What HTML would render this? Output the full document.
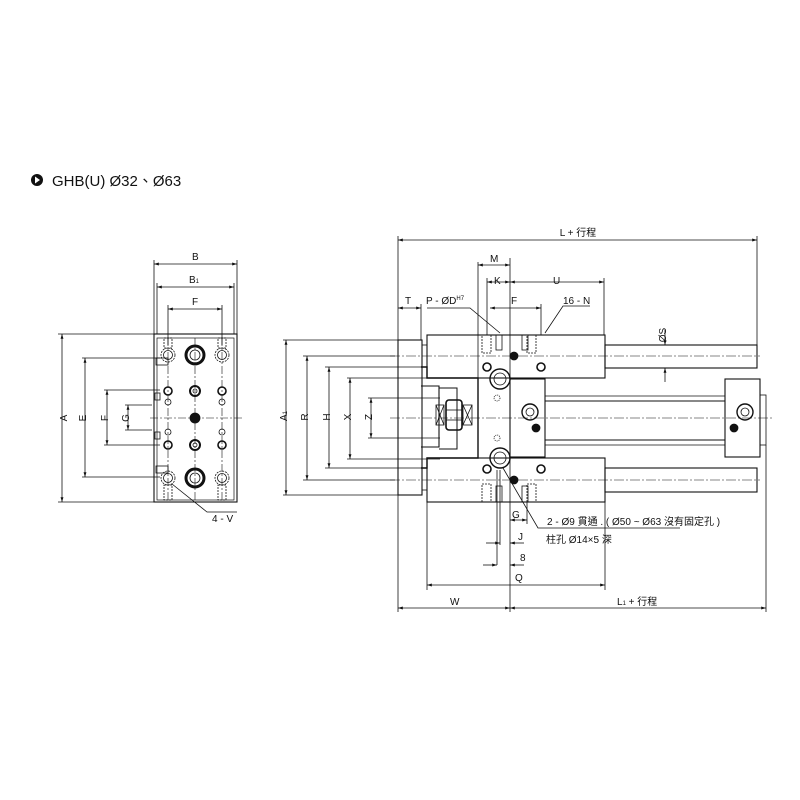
<!DOCTYPE html>
<html><head><meta charset="utf-8"><style>
html,body{margin:0;padding:0;background:#fff}
svg{display:block}
text{font-family:"Liberation Sans","Noto Sans CJK TC",sans-serif;fill:#111}
</style></head><body>
<svg width="800" height="800" viewBox="0 0 800 800" xmlns="http://www.w3.org/2000/svg">
<defs>
<marker id="a" viewBox="0 0 10 10" refX="10" refY="5" markerWidth="6" markerHeight="6" orient="auto-start-reverse"><path d="M0,2L10,5L0,8z" fill="#111"/></marker>
</defs>
<rect width="800" height="800" fill="#fff"/>
<!-- title -->
<circle cx="37" cy="180" r="6" fill="#111"/><path d="M35,176.5L40,180L35,183.5z" fill="#fff"/>
<text x="52" y="186" font-size="15">GHB(U) Ø32、Ø63</text>

<g stroke="#111" fill="none" stroke-width="0.8">
<!-- FRONT VIEW -->
<rect x="154" y="334" width="83" height="168" stroke-width="1.1"/>
<rect x="157" y="338" width="77" height="162" stroke-width="0.7"/>
<!-- ext lines -->
<line x1="154" y1="260" x2="154" y2="334"/><line x1="237" y1="260" x2="237" y2="334"/>
<line x1="157" y1="283" x2="157" y2="334"/><line x1="234" y1="283" x2="234" y2="334"/>
<line x1="168" y1="305" x2="168" y2="345"/><line x1="222" y1="305" x2="222" y2="345"/>
<line x1="154" y1="264" x2="237" y2="264" marker-start="url(#a)" marker-end="url(#a)"/>
<line x1="157" y1="287" x2="234" y2="287" marker-start="url(#a)" marker-end="url(#a)"/>
<line x1="168" y1="309" x2="222" y2="309" marker-start="url(#a)" marker-end="url(#a)"/>
<line x1="58" y1="334" x2="154" y2="334"/><line x1="58" y1="502" x2="154" y2="502"/>
<line x1="62" y1="334" x2="62" y2="502" marker-start="url(#a)" marker-end="url(#a)"/>
<line x1="82" y1="358" x2="160" y2="358"/><line x1="82" y1="477" x2="160" y2="477"/>
<line x1="85" y1="358" x2="85" y2="477" marker-start="url(#a)" marker-end="url(#a)"/>
<line x1="104" y1="390" x2="160" y2="390"/><line x1="104" y1="445" x2="160" y2="445"/>
<line x1="107" y1="390" x2="107" y2="445" marker-start="url(#a)" marker-end="url(#a)"/>
<line x1="125" y1="405" x2="152" y2="405"/><line x1="125" y1="430" x2="152" y2="430"/>
<line x1="128" y1="405" x2="128" y2="430" marker-start="url(#a)" marker-end="url(#a)"/>
<!-- center lines -->
<g stroke-dasharray="8,2,2,2" stroke-width="0.6">
<line x1="150" y1="418" x2="242" y2="418"/>
<line x1="195" y1="338" x2="195" y2="500"/>
<line x1="168" y1="338" x2="168" y2="500"/><line x1="222" y1="338" x2="222" y2="500"/>
</g>
<!-- holes -->
<circle cx="195" cy="355" r="9" stroke-width="3"/><circle cx="195" cy="355" r="5"/>
<circle cx="195" cy="478" r="9" stroke-width="3"/><circle cx="195" cy="478" r="5"/>
<circle cx="168" cy="355" r="7" stroke-dasharray="2,1"/><circle cx="168" cy="355" r="4.5"/>
<circle cx="222" cy="355" r="7" stroke-dasharray="2,1"/><circle cx="222" cy="355" r="4.5"/>
<circle cx="168" cy="478" r="7" stroke-dasharray="2,1"/><circle cx="168" cy="478" r="4.5"/>
<circle cx="222" cy="478" r="7" stroke-dasharray="2,1"/><circle cx="222" cy="478" r="4.5"/>
<g stroke-width="1.6">
<circle cx="168" cy="391" r="4"/><circle cx="222" cy="391" r="4"/>
<circle cx="168" cy="445" r="4"/><circle cx="222" cy="445" r="4"/>
</g>
<circle cx="168" cy="402" r="3"/><circle cx="222" cy="402" r="3"/>
<circle cx="168" cy="432" r="3"/><circle cx="222" cy="432" r="3"/>
<circle cx="195" cy="391" r="5" stroke-width="2"/><circle cx="195" cy="391" r="2"/>
<circle cx="195" cy="445" r="5" stroke-width="2"/><circle cx="195" cy="445" r="2"/>
<circle cx="195" cy="418" r="5" fill="#111"/>
<rect x="156" y="358" width="12" height="7"/><rect x="156" y="466" width="12" height="7"/>
<rect x="155" y="393" width="5" height="7"/><rect x="155" y="432" width="5" height="7"/>
<rect x="164" y="338" width="8" height="10" stroke-dasharray="2,1"/><rect x="218" y="338" width="8" height="10" stroke-dasharray="2,1"/>
<rect x="164" y="485" width="8" height="15" stroke-dasharray="2,1"/><rect x="218" y="485" width="8" height="15" stroke-dasharray="2,1"/>
<polyline points="172,484 207,512 237,512"/>

<!-- SIDE VIEW -->
<line x1="398" y1="236" x2="398" y2="612"/>
<line x1="757" y1="236" x2="757" y2="345"/>
<line x1="766" y1="445" x2="766" y2="612"/>
<line x1="510" y1="258" x2="510" y2="612"/>
<line x1="478" y1="262" x2="478" y2="380"/>
<line x1="398" y1="240" x2="757" y2="240" marker-start="url(#a)" marker-end="url(#a)"/>
<line x1="478" y1="265" x2="510" y2="265" marker-start="url(#a)" marker-end="url(#a)"/>
<line x1="487" y1="282" x2="510" y2="282" marker-start="url(#a)" marker-end="url(#a)"/>
<line x1="487" y1="278" x2="487" y2="335"/>
<line x1="510" y1="282" x2="604" y2="282" marker-start="url(#a)" marker-end="url(#a)"/>
<line x1="604" y1="278" x2="604" y2="335"/>
<line x1="490" y1="308" x2="541" y2="308" marker-start="url(#a)" marker-end="url(#a)"/>
<line x1="541" y1="304" x2="541" y2="335"/>
<line x1="398" y1="308" x2="421" y2="308" marker-start="url(#a)" marker-end="url(#a)"/>
<line x1="421" y1="304" x2="421" y2="340"/>
<polyline points="427,308 470,308 500,333"/>
<polyline points="590,306 563,306 545,333"/>
<line x1="665" y1="330" x2="665" y2="345" marker-end="url(#a)"/>
<line x1="665" y1="382" x2="665" y2="368" marker-end="url(#a)"/>
<!-- flange -->
<rect x="398" y="340" width="24" height="155" stroke-width="1.1"/>
<line x1="422" y1="345" x2="427" y2="345"/><line x1="422" y1="490" x2="427" y2="490"/>
<!-- A1,R,H,X,Z dims -->
<line x1="283" y1="340" x2="398" y2="340"/><line x1="283" y1="495" x2="398" y2="495"/>
<line x1="286" y1="340" x2="286" y2="495" marker-start="url(#a)" marker-end="url(#a)"/>
<line x1="303" y1="356" x2="395" y2="356"/><line x1="303" y1="480" x2="395" y2="480"/>
<line x1="307" y1="356" x2="307" y2="480" marker-start="url(#a)" marker-end="url(#a)"/>
<line x1="325" y1="367" x2="421" y2="367"/><line x1="325" y1="468" x2="421" y2="468"/>
<line x1="329" y1="367" x2="329" y2="468" marker-start="url(#a)" marker-end="url(#a)"/>
<line x1="347" y1="378" x2="440" y2="378"/><line x1="347" y1="459" x2="440" y2="459"/>
<line x1="350" y1="378" x2="350" y2="459" marker-start="url(#a)" marker-end="url(#a)"/>
<line x1="368" y1="398" x2="440" y2="398"/><line x1="368" y1="438" x2="440" y2="438"/>
<line x1="371" y1="398" x2="371" y2="438" marker-start="url(#a)" marker-end="url(#a)"/>
<!-- upper block and rod -->
<rect x="427" y="335" width="178" height="43" stroke-width="1.1"/>
<rect x="605" y="345" width="152" height="23" stroke-width="1.1"/>
<rect x="427" y="458" width="178" height="44" stroke-width="1.1"/>
<rect x="605" y="468" width="152" height="24" stroke-width="1.1"/>
<!-- left stepped body -->
<polyline points="421,367 427,367 427,378 478,378 478,458 427,458 427,468 421,468" stroke-width="1.4"/>
<polyline points="421,386 439,386 439,447 421,447" stroke-width="1.1"/>
<polyline points="439,388 457,388 457,449 439,449" stroke-width="1"/>
<!-- nut -->
<rect x="436" y="405" width="8" height="20"/><rect x="463" y="405" width="9" height="20"/>
<line x1="436" y1="405" x2="444" y2="425"/><line x1="436" y1="425" x2="444" y2="405"/>
<line x1="463" y1="405" x2="472" y2="425"/><line x1="463" y1="425" x2="472" y2="405"/>
<rect x="446" y="400" width="16" height="30" rx="3" stroke-width="1.6"/>
<line x1="446" y1="410" x2="462" y2="410"/><line x1="446" y1="420" x2="462" y2="420"/>
<!-- central plate -->
<rect x="510" y="379" width="35" height="78" stroke-width="1.1"/>
<!-- guide rods -->
<line x1="545" y1="396" x2="725" y2="396"/>
<line x1="545" y1="401" x2="725" y2="401" stroke-width="1.1"/>
<line x1="545" y1="440" x2="725" y2="440" stroke-width="1.1"/>
<line x1="545" y1="445" x2="725" y2="445"/>
<rect x="725" y="379" width="35" height="78" stroke-width="1.1"/>
<rect x="760" y="395" width="6" height="50"/>
<!-- big circles -->
<circle cx="500" cy="379" r="10" stroke-width="1.4"/><circle cx="500" cy="379" r="6"/>
<circle cx="500" cy="458" r="10" stroke-width="1.4"/><circle cx="500" cy="458" r="6"/>
<circle cx="487" cy="367" r="4" stroke-width="1.6"/><circle cx="541" cy="367" r="4" stroke-width="1.6"/>
<circle cx="487" cy="469" r="4" stroke-width="1.6"/><circle cx="541" cy="469" r="4" stroke-width="1.6"/>
<circle cx="497" cy="398" r="3" stroke-dasharray="1,1"/><circle cx="497" cy="438" r="3" stroke-dasharray="1,1"/>
<circle cx="530" cy="412" r="8" stroke-width="1.4"/><circle cx="530" cy="412" r="4"/>
<circle cx="745" cy="412" r="8" stroke-width="1.4"/><circle cx="745" cy="412" r="4"/>
<circle cx="536" cy="428" r="4" fill="#111"/><circle cx="734" cy="428" r="4" fill="#111"/>
<circle cx="514" cy="356" r="4" fill="#111"/><circle cx="514" cy="480" r="4" fill="#111"/>
<!-- tapped holes -->
<g stroke-dasharray="2,1">
<rect x="482" y="335" width="9" height="18"/><rect x="527" y="335" width="9" height="18"/>
<rect x="482" y="484" width="9" height="18"/><rect x="527" y="484" width="9" height="18"/>
</g>
<rect x="496" y="335" width="6" height="15"/><rect x="522" y="335" width="6" height="15"/>
<rect x="496" y="486" width="6" height="16"/><rect x="522" y="486" width="6" height="16"/>
<!-- center lines side -->
<g stroke-dasharray="10,2,2,2" stroke-width="0.6">
<line x1="390" y1="356" x2="760" y2="356"/>
<line x1="390" y1="480" x2="760" y2="480"/>
<line x1="390" y1="418" x2="772" y2="418"/>
</g>
<!-- leader -->
<polyline points="503,468 538,528 680,528"/>
<!-- bottom dims -->
<line x1="427" y1="502" x2="427" y2="590"/><line x1="605" y1="502" x2="605" y2="590"/>
<line x1="427" y1="585" x2="605" y2="585" marker-start="url(#a)" marker-end="url(#a)"/>
<line x1="398" y1="608" x2="510" y2="608" marker-start="url(#a)" marker-end="url(#a)"/>
<line x1="510" y1="608" x2="766" y2="608" marker-start="url(#a)" marker-end="url(#a)"/>
<line x1="527" y1="502" x2="527" y2="524"/>
<line x1="497" y1="470" x2="497" y2="565"/><line x1="500" y1="470" x2="500" y2="545"/>
<line x1="510" y1="520" x2="527" y2="520" marker-start="url(#a)" marker-end="url(#a)"/>
<line x1="486" y1="543" x2="500" y2="543" marker-end="url(#a)"/>
<line x1="524" y1="543" x2="510" y2="543" marker-end="url(#a)"/>
<line x1="483" y1="565" x2="497" y2="565" marker-end="url(#a)"/>
<line x1="524" y1="565" x2="510" y2="565" marker-end="url(#a)"/>
</g>

<!-- labels -->
<g font-size="10">
<text x="192" y="260">B</text>
<text x="189" y="283">B<tspan font-size="6">1</tspan></text>
<text x="192" y="305">F</text>
<text x="63" y="422" transform="rotate(-90 63 418)" text-anchor="middle">A</text>
<text x="82" y="422" transform="rotate(-90 82 418)" text-anchor="middle">E</text>
<text x="104" y="422" transform="rotate(-90 104 418)" text-anchor="middle">F</text>
<text x="125" y="422" transform="rotate(-90 125 418)" text-anchor="middle">G</text>
<text x="212" y="522">4 - V</text>
<text x="578" y="236" text-anchor="middle">L + 行程</text>
<text x="490" y="262">M</text>
<text x="494" y="284">K</text>
<text x="553" y="284">U</text>
<text x="511" y="304">F</text>
<text x="405" y="304">T</text>
<text x="426" y="304">P - ØD<tspan font-size="6" dy="-4">H7</tspan></text>
<text x="563" y="304">16 - N</text>
<text x="663" y="338" transform="rotate(-90 663 335)" text-anchor="middle">ØS</text>
<text x="285" y="422" transform="rotate(-90 283 418)" text-anchor="middle">A<tspan font-size="6">1</tspan></text>
<text x="305" y="422" transform="rotate(-90 304 418)" text-anchor="middle">R</text>
<text x="327" y="422" transform="rotate(-90 326 418)" text-anchor="middle">H</text>
<text x="348" y="422" transform="rotate(-90 347 418)" text-anchor="middle">X</text>
<text x="369" y="422" transform="rotate(-90 368 418)" text-anchor="middle">Z</text>
<text x="512" y="518">G</text>
<text x="518" y="540">J</text>
<text x="520" y="561">8</text>
<text x="515" y="581">Q</text>
<text x="450" y="605">W</text>
<text x="617" y="605">L<tspan font-size="6">1</tspan> + 行程</text>
<text x="547" y="525">2 - Ø9 貫通 . ( Ø50 ~ Ø63 沒有固定孔 )</text>
<text x="546" y="543">柱孔 Ø14×5 深</text>
</g>
</svg>
</body></html>
